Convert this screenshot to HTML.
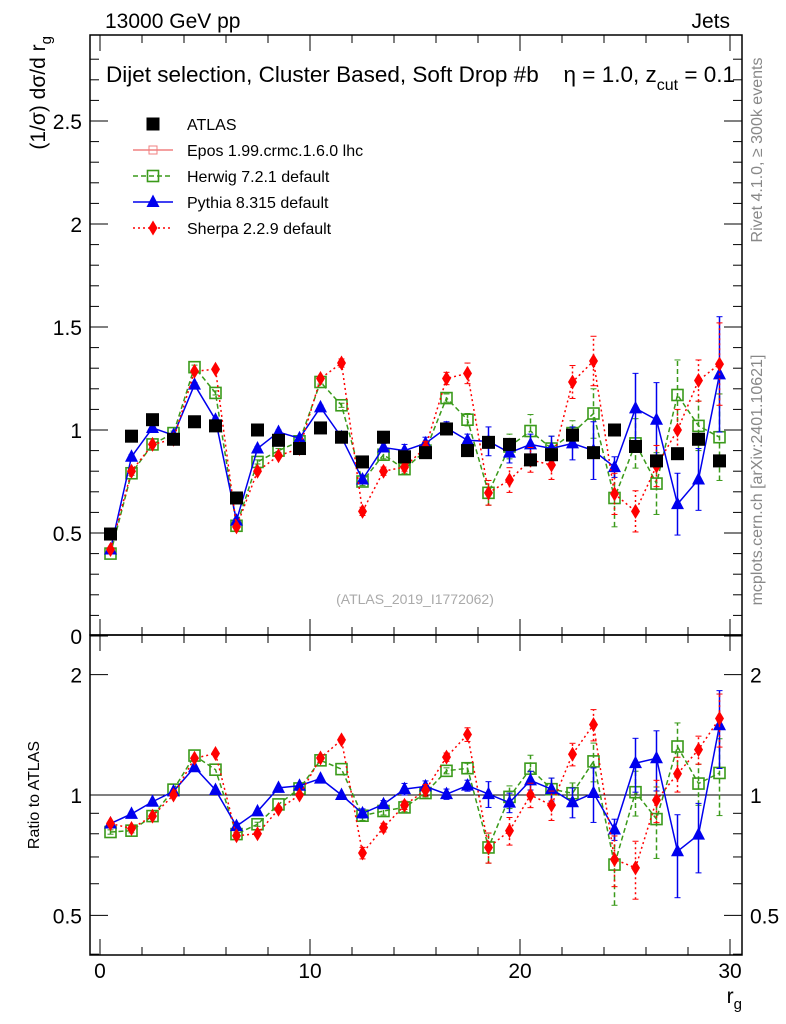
<!DOCTYPE html>
<html><head><meta charset="utf-8"><style>
body{margin:0;background:#fff;}
svg{display:block;font-family:"Liberation Sans",sans-serif;}
</style></head><body>
<svg id="c" width="786" height="1024" viewBox="0 0 786 1024">
<text x="105" y="28" font-size="21">13000 GeV pp</text>
<text x="730" y="28" font-size="21" text-anchor="end">Jets</text>
<text x="106" y="82" font-size="22.5">Dijet selection, Cluster Based, Soft Drop #b</text>
<text x="735" y="82" font-size="22.5" text-anchor="end">η = 1.0, z<tspan font-size="16" dy="8">cut</tspan><tspan dy="-8"> = 0.1</tspan></text>
<text transform="translate(45,36) rotate(-90)" font-size="21" text-anchor="end">(1/σ) dσ/d r<tspan font-size="15" dy="6">g</tspan></text>
<text transform="translate(39,795) rotate(-90)" font-size="16" text-anchor="middle">Ratio to ATLAS</text>
<text x="742" y="1003" font-size="21" text-anchor="end">r<tspan font-size="15" dy="6">g</tspan></text>
<text transform="translate(762,150) rotate(-90)" font-size="16" fill="#888" text-anchor="middle">Rivet 4.1.0, ≥ 300k events</text>
<text transform="translate(762,480) rotate(-90)" font-size="16" fill="#888" text-anchor="middle">mcplots.cern.ch [arXiv:2401.10621]</text>
<text x="415" y="604" font-size="14" fill="#aaa" text-anchor="middle">(ATLAS_2019_I1772062)</text>
<g id="g"></g>
</svg>
<script>
const xs=[0.5,1.5,2.5,3.5,4.5,5.5,6.5,7.5,8.5,9.5,10.5,11.5,12.5,13.5,14.5,15.5,16.5,17.5,18.5,19.5,20.5,21.5,22.5,23.5,24.5,25.5,26.5,27.5,28.5,29.5];
const atlas=[0.495,0.97,1.05,0.955,1.04,1.02,0.67,1.0,0.95,0.91,1.01,0.965,0.845,0.965,0.87,0.89,1.005,0.9,0.94,0.93,0.855,0.88,0.975,0.89,1.0,0.92,0.85,0.885,0.955,0.85];
const herwig=[0.40,0.79,0.93,0.985,1.305,1.18,0.535,0.845,0.9,0.945,1.233,1.12,0.75,0.88,0.81,0.9,1.155,1.05,0.695,0.92,0.995,0.91,0.985,1.08,0.67,0.935,0.74,1.17,1.02,0.965];
const herwigErr=[0.005,0.01,0.01,0.01,0.01,0.01,0.01,0.01,0.01,0.01,0.01,0.01,0.02,0.02,0.02,0.02,0.02,0.03,0.06,0.06,0.08,0.06,0.06,0.12,0.14,0.12,0.15,0.17,0.12,0.21];
const pythia=[0.42,0.87,1.01,0.975,1.22,1.05,0.56,0.91,0.99,0.96,1.11,0.965,0.76,0.915,0.9,0.935,1.01,0.95,0.945,0.89,0.93,0.91,0.935,0.90,0.82,1.105,1.05,0.64,0.76,1.27];
const pythiaErr=[0.005,0.01,0.01,0.01,0.01,0.01,0.01,0.01,0.01,0.01,0.01,0.01,0.02,0.02,0.03,0.03,0.03,0.03,0.07,0.05,0.05,0.06,0.08,0.14,0.05,0.17,0.18,0.15,0.15,0.28];
const sherpa=[0.42,0.80,0.93,0.955,1.285,1.295,0.53,0.80,0.875,0.91,1.25,1.325,0.605,0.80,0.82,0.915,1.25,1.275,0.695,0.757,0.855,0.83,1.233,1.335,0.69,0.605,0.825,1.0,1.24,1.32];
const sherpaErr=[0.005,0.01,0.01,0.01,0.01,0.01,0.01,0.01,0.01,0.01,0.01,0.02,0.02,0.02,0.02,0.03,0.03,0.05,0.06,0.06,0.06,0.07,0.08,0.12,0.1,0.1,0.1,0.1,0.1,0.2];
const xTicks=[0,10,20,30];
const yTicks=[0,0.5,1,1.5,2,2.5];
const rTicks=[0.5,1,2];

const NS='http://www.w3.org/2000/svg',G=document.getElementById('g');
const L=90,R=742,T=35,MB=635,RB=955;
const X=v=>100+v*21, Y=v=>636-v*206, RY=v=>795-400*Math.log10(v);
function el(t,a,p){const e=document.createElementNS(NS,t);for(const k in a)e.setAttribute(k,a[k]);(p||G).appendChild(e);return e;}
let f1=el('rect',{x:L,y:T,width:R-L,height:MB-T,fill:'none',stroke:'#000','stroke-width':1.5});


let f2=el('rect',{x:L,y:MB,width:R-L,height:RB-MB,fill:'none',stroke:'#000','stroke-width':1.5});


for(let v=0;v<=30;v+=2){const maj=v%10==0,len=maj?16:8;
 [[MB,-1],[T,1],[RB,-1],[MB,1]].forEach(([y0,d])=>el('line',{x1:X(v),x2:X(v),y1:y0,y2:y0+d*len,stroke:'#000'}));}
xTicks.forEach(v=>{const t=el('text',{x:X(v),y:978,'font-size':21,'text-anchor':'middle'});t.textContent=v;
 
 });
for(let i=0;i<=28;i++){const v=i*0.1,maj=i%5==0,len=maj?18:9;if(Y(v)<T)continue;
 el('line',{x1:L,x2:L+len,y1:Y(v),y2:Y(v),stroke:'#000'});el('line',{x1:R,x2:R-len,y1:Y(v),y2:Y(v),stroke:'#000'});}
yTicks.forEach(v=>{const t=el('text',{x:82,y:Y(v)+8,'font-size':21,'text-anchor':'end'});t.textContent=v;
 
 });
[0.4,0.5,0.6,0.7,0.8,0.9,1,2].forEach(v=>{const maj=v==0.5||v==1||v==2,len=maj?18:9;
 el('line',{x1:L,x2:L+len,y1:RY(v),y2:RY(v),stroke:'#000'});el('line',{x1:R,x2:R-len,y1:RY(v),y2:RY(v),stroke:'#000'});});
rTicks.forEach(v=>{[[82,'end'],[750,'start']].forEach(([x,a])=>{const t=el('text',{x:x,y:RY(v)+8,'font-size':21,'text-anchor':a});t.textContent=v;
 
 });});
el('line',{x1:L,x2:R,y1:RY(1),y2:RY(1),stroke:'#000'});
function marker(kind,x,y,col,p){
 if(kind=='sq')return el('rect',{x:x-6.5,y:y-6.5,width:13,height:13,fill:'#000'},p);
 if(kind=='osq')return el('rect',{x:x-5.5,y:y-5.5,width:11,height:11,fill:'none',stroke:col,'stroke-width':1.6},p);
 if(kind=='tri')return el('polygon',{points:`${x},${y-7.5} ${x-6.5},${y+5} ${x+6.5},${y+5}`,fill:col},p);
 if(kind=='dia')return el('polygon',{points:`${x},${y-7.5} ${x-4.5},${y} ${x},${y+7.5} ${x+4.5},${y}`,fill:col},p);
}
function series(name,vals,errs,col,dash,kind,yf,ratio){
 const g=el('g',{});
 
 
 const vv=vals.map((v,i)=>ratio?v/atlas[i]:v), ee=errs.map((e,i)=>ratio?e/atlas[i]:e);
 el('polyline',{points:xs.map((x,i)=>X(x)+','+yf(vv[i])).join(' '),fill:'none',stroke:col,'stroke-width':1.5,'stroke-dasharray':dash},g);
 xs.forEach((x,i)=>{const y1=yf(Math.max(vv[i]-ee[i],0.41)),y2=yf(vv[i]+ee[i]);
  if(y1-y2>4){el('line',{x1:X(x),x2:X(x),y1:y1,y2:y2,stroke:col,'stroke-width':1.5,'stroke-dasharray':dash},g);
   el('line',{x1:X(x)-3,x2:X(x)+3,y1:y1,y2:y1,stroke:col},g);el('line',{x1:X(x)-3,x2:X(x)+3,y1:y2,y2:y2,stroke:col},g);}
  const m=marker(kind,X(x),yf(vv[i]),col,g);
  
  });
}
series('herwig',herwig,herwigErr,'#3a9a1a','5,3','osq',Y,false);
series('pythia',pythia,pythiaErr,'#0000ee','none','tri',Y,false);
series('sherpa',sherpa,sherpaErr,'#ff0000','2,3','dia',Y,false);
series('herwig',herwig,herwigErr,'#3a9a1a','5,3','osq',RY,true);
series('pythia',pythia,pythiaErr,'#0000ee','none','tri',RY,true);
series('sherpa',sherpa,sherpaErr,'#ff0000','2,3','dia',RY,true);
xs.forEach((x,i)=>{const m=marker('sq',X(x),Y(atlas[i]),'#000');
 
 });
const leg=[['ATLAS','sq','#000','none'],['Epos 1.99.crmc.1.6.0 lhc','ep','#f08080','none'],['Herwig 7.2.1 default','osq','#3a9a1a','5,3'],['Pythia 8.315 default','tri','#0000ee','none'],['Sherpa 2.2.9 default','dia','#ff0000','2,3']];
leg.forEach(([lab,k,col,d],i)=>{const y=124+i*26;const g=el('g',{});
 
 
 if(k!='sq')el('line',{x1:133,x2:173,y1:y,y2:y,stroke:col,'stroke-width':1.5,'stroke-dasharray':d},g);
 if(k=='ep')el('rect',{x:149,y:y-4,width:8,height:8,fill:'none',stroke:col},g);else marker(k,153,y,col,g);
 const t=el('text',{x:187,y:y+6,'font-size':16},g);t.textContent=lab;});
</script>
</body></html>
